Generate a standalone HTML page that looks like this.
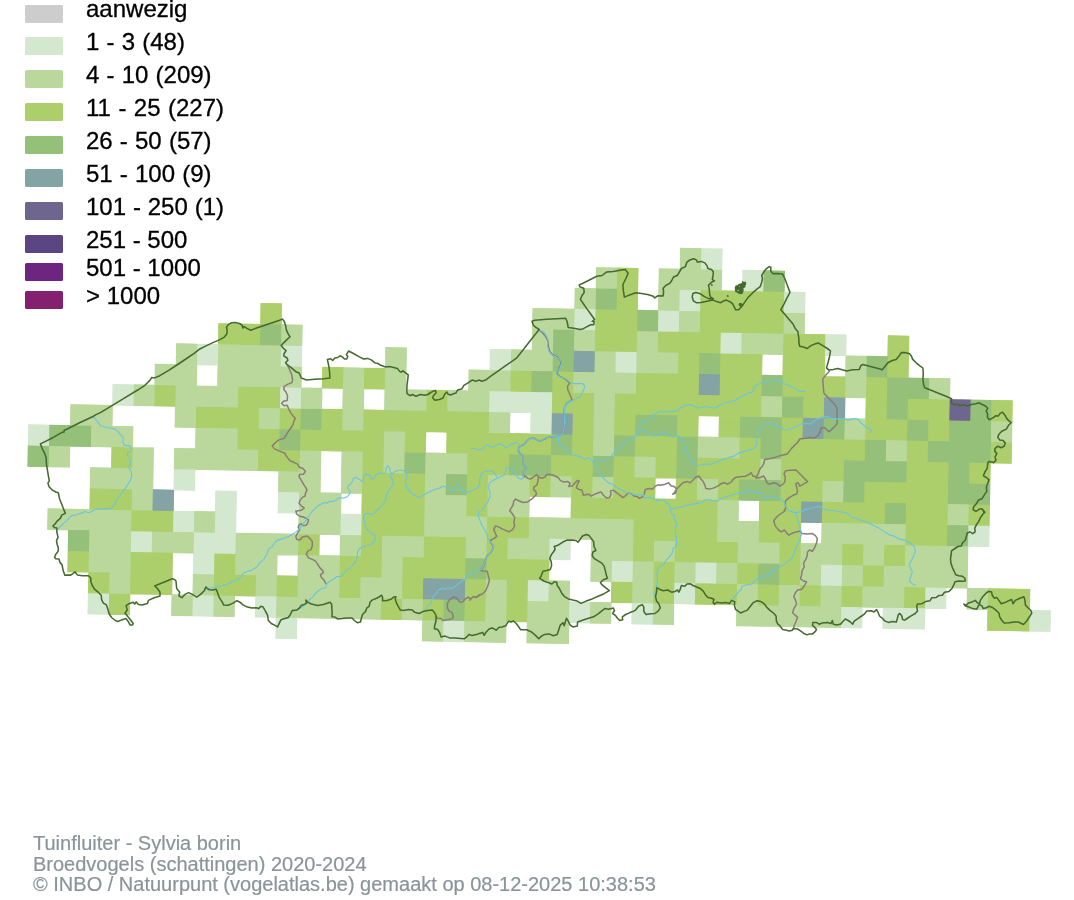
<!DOCTYPE html>
<html lang="nl"><head><meta charset="utf-8"><title>Tuinfluiter - Sylvia borin</title>
<style>
html,body{margin:0;padding:0;background:#fff}
body{width:1074px;height:900px;position:relative;overflow:hidden;font-family:"Liberation Sans",Arial,sans-serif}
svg{position:absolute;left:0;top:0}
.sw{position:absolute;left:25px;width:38px;height:18px;border-radius:1.5px}
.lt{position:absolute;left:86px;font-size:24px;line-height:28px;color:#000;white-space:nowrap;-webkit-text-stroke:0.3px #000}
.ft{position:absolute;left:33px;top:833px;font-size:20px;line-height:20.5px;color:#8a9599;-webkit-text-stroke:0.2px #8a9599;white-space:nowrap}
</style></head><body>
<svg width="1074" height="900" viewBox="0 0 1074 900"><g transform="matrix(20.92 0.38 -0.38 20.92 31.9 236.35)"><path fill="#6f668f" d="M43.985 6.985H45.015V8.015H43.985Z"/><path fill="#84a3a4" d="M25.985 4.985H27.015V6.015H25.985ZM31.985 5.985H33.015V7.015H31.985ZM37.985 6.985H39.015V8.015H37.985ZM24.985 7.985H26.015V9.015H24.985ZM36.985 7.985H38.015V9.015H36.985ZM5.985 11.985H7.015V13.015H5.985ZM36.985 11.985H38.015V13.015H36.985ZM18.985 15.985H21.015V17.015H18.985Z"/><path fill="#94c079" d="M34.985 0.985H36.015V2.015H34.985ZM26.985 1.985H28.015V3.015H26.985ZM28.985 2.985H30.015V4.015H28.985ZM10.985 3.985H12.015V5.015H10.985ZM24.985 3.985H26.015V5.015H24.985ZM24.985 4.985H26.015V6.015H24.985ZM31.985 4.985H33.015V6.015H31.985ZM39.985 4.985H41.015V6.015H39.985ZM23.985 5.985H25.015V7.015H23.985ZM34.985 5.985H36.015V7.015H34.985ZM40.985 5.985H43.015V7.015H40.985ZM35.985 6.985H37.015V8.015H35.985ZM40.985 6.985H42.015V8.015H40.985ZM44.985 6.985H46.015V8.015H44.985ZM12.985 7.985H14.015V9.015H12.985ZM28.985 7.985H31.015V9.015H28.985ZM33.985 7.985H36.015V9.015H33.985ZM37.985 7.985H39.015V9.015H37.985ZM41.985 7.985H43.015V9.015H41.985ZM43.985 7.985H46.015V9.015H43.985ZM0.985 8.985H3.015V10.015H0.985ZM11.985 8.985H13.015V10.015H11.985ZM24.985 8.985H26.015V10.015H24.985ZM27.985 8.985H29.015V10.015H27.985ZM30.985 8.985H32.015V10.015H30.985ZM34.985 8.985H36.015V10.015H34.985ZM39.985 8.985H41.015V10.015H39.985ZM42.985 8.985H46.015V10.015H42.985ZM-0.015 9.985H1.015V11.015H-0.015ZM17.985 9.985H19.015V11.015H17.985ZM22.985 9.985H25.015V11.015H22.985ZM26.985 9.985H28.015V11.015H26.985ZM30.985 9.985H32.015V11.015H30.985ZM38.985 9.985H42.015V11.015H38.985ZM43.985 9.985H45.015V11.015H43.985ZM19.985 10.985H21.015V12.015H19.985ZM33.985 10.985H36.015V12.015H33.985ZM38.985 10.985H40.015V12.015H38.985ZM43.985 10.985H46.015V12.015H43.985ZM40.985 11.985H42.015V13.015H40.985ZM43.985 12.985H45.015V14.015H43.985ZM1.985 13.985H3.015V15.015H1.985ZM20.985 14.985H22.015V16.015H20.985ZM34.985 14.985H36.015V16.015H34.985ZM19.985 16.985H21.015V18.015H19.985Z"/><path fill="#adcf6b" d="M27.985 0.985H29.015V2.015H27.985ZM27.985 1.985H29.015V3.015H27.985ZM31.985 1.985H36.015V3.015H31.985ZM10.985 2.985H12.015V4.015H10.985ZM26.985 2.985H29.015V4.015H26.985ZM31.985 2.985H36.015V4.015H31.985ZM8.985 3.985H11.015V5.015H8.985ZM26.985 3.985H29.015V5.015H26.985ZM29.985 3.985H33.015V5.015H29.985ZM35.985 3.985H38.015V5.015H35.985ZM40.985 3.985H42.015V5.015H40.985ZM30.985 4.985H32.015V6.015H30.985ZM32.985 4.985H35.015V6.015H32.985ZM35.985 4.985H38.015V6.015H35.985ZM40.985 4.985H42.015V6.015H40.985ZM13.985 5.985H15.015V7.015H13.985ZM15.985 5.985H17.015V7.015H15.985ZM22.985 5.985H24.015V7.015H22.985ZM24.985 5.985H26.015V7.015H24.985ZM28.985 5.985H32.015V7.015H28.985ZM32.985 5.985H35.015V7.015H32.985ZM35.985 5.985H39.015V7.015H35.985ZM39.985 5.985H41.015V7.015H39.985ZM5.985 6.985H7.015V8.015H5.985ZM9.985 6.985H12.015V8.015H9.985ZM18.985 6.985H20.015V8.015H18.985ZM24.985 6.985H27.015V8.015H24.985ZM27.985 6.985H35.015V8.015H27.985ZM36.985 6.985H38.015V8.015H36.985ZM39.985 6.985H41.015V8.015H39.985ZM41.985 6.985H44.015V8.015H41.985ZM45.985 6.985H47.015V8.015H45.985ZM7.985 7.985H11.015V9.015H7.985ZM11.985 7.985H13.015V9.015H11.985ZM13.985 7.985H15.015V9.015H13.985ZM15.985 7.985H22.015V9.015H15.985ZM25.985 7.985H27.015V9.015H25.985ZM27.985 7.985H29.015V9.015H27.985ZM30.985 7.985H32.015V9.015H30.985ZM32.985 7.985H34.015V9.015H32.985ZM35.985 7.985H37.015V9.015H35.985ZM39.985 7.985H42.015V9.015H39.985ZM42.985 7.985H44.015V9.015H42.985ZM9.985 8.985H12.015V10.015H9.985ZM12.985 8.985H17.015V10.015H12.985ZM17.985 8.985H19.015V10.015H17.985ZM19.985 8.985H25.015V10.015H19.985ZM25.985 8.985H27.015V10.015H25.985ZM28.985 8.985H31.015V10.015H28.985ZM33.985 8.985H35.015V10.015H33.985ZM35.985 8.985H40.015V10.015H35.985ZM41.985 8.985H43.015V10.015H41.985ZM45.985 8.985H47.015V10.015H45.985ZM3.985 9.985H5.015V11.015H3.985ZM10.985 9.985H13.015V11.015H10.985ZM15.985 9.985H17.015V11.015H15.985ZM20.985 9.985H23.015V11.015H20.985ZM24.985 9.985H27.015V11.015H24.985ZM27.985 9.985H29.015V11.015H27.985ZM29.985 9.985H31.015V11.015H29.985ZM31.985 9.985H35.015V11.015H31.985ZM35.985 9.985H39.015V11.015H35.985ZM41.985 9.985H44.015V11.015H41.985ZM44.985 9.985H46.015V11.015H44.985ZM15.985 10.985H19.015V12.015H15.985ZM20.985 10.985H22.015V12.015H20.985ZM23.985 10.985H25.015V12.015H23.985ZM25.985 10.985H27.015V12.015H25.985ZM27.985 10.985H30.015V12.015H27.985ZM30.985 10.985H32.015V12.015H30.985ZM32.985 10.985H34.015V12.015H32.985ZM35.985 10.985H38.015V12.015H35.985ZM39.985 10.985H44.015V12.015H39.985ZM2.985 11.985H5.015V13.015H2.985ZM15.985 11.985H19.015V13.015H15.985ZM20.985 11.985H22.015V13.015H20.985ZM25.985 11.985H33.015V13.015H25.985ZM34.985 11.985H37.015V13.015H34.985ZM37.985 11.985H41.015V13.015H37.985ZM41.985 11.985H44.015V13.015H41.985ZM44.985 11.985H46.015V13.015H44.985ZM4.985 12.985H7.015V14.015H4.985ZM15.985 12.985H19.015V14.015H15.985ZM21.985 12.985H24.015V14.015H21.985ZM28.985 12.985H33.015V14.015H28.985ZM34.985 12.985H37.015V14.015H34.985ZM41.985 12.985H44.015V14.015H41.985ZM12.985 13.985H14.015V15.015H12.985ZM15.985 13.985H17.015V15.015H15.985ZM18.985 13.985H21.015V15.015H18.985ZM21.985 13.985H23.015V15.015H21.985ZM28.985 13.985H30.015V15.015H28.985ZM30.985 13.985H34.015V15.015H30.985ZM35.985 13.985H37.015V15.015H35.985ZM38.985 13.985H40.015V15.015H38.985ZM40.985 13.985H42.015V15.015H40.985ZM1.985 14.985H3.015V16.015H1.985ZM4.985 14.985H7.015V16.015H4.985ZM8.985 14.985H10.015V16.015H8.985ZM14.985 14.985H17.015V16.015H14.985ZM17.985 14.985H21.015V16.015H17.985ZM21.985 14.985H25.015V16.015H21.985ZM29.985 14.985H31.015V16.015H29.985ZM33.985 14.985H35.015V16.015H33.985ZM35.985 14.985H37.015V16.015H35.985ZM39.985 14.985H41.015V16.015H39.985ZM2.985 15.985H4.015V17.015H2.985ZM4.985 15.985H7.015V17.015H4.985ZM8.985 15.985H11.015V17.015H8.985ZM11.985 15.985H13.015V17.015H11.985ZM14.985 15.985H16.015V17.015H14.985ZM17.985 15.985H19.015V17.015H17.985ZM20.985 15.985H22.015V17.015H20.985ZM22.985 15.985H24.015V17.015H22.985ZM27.985 15.985H29.015V17.015H27.985ZM29.985 15.985H31.015V17.015H29.985ZM31.985 15.985H34.015V17.015H31.985ZM34.985 15.985H36.015V17.015H34.985ZM36.985 15.985H38.015V17.015H36.985ZM38.985 15.985H40.015V17.015H38.985ZM41.985 15.985H43.015V17.015H41.985ZM45.985 15.985H48.015V17.015H45.985ZM3.985 16.985H5.015V18.015H3.985ZM16.985 16.985H18.015V18.015H16.985ZM18.985 16.985H20.015V18.015H18.985ZM20.985 16.985H22.015V18.015H20.985ZM22.985 16.985H24.015V18.015H22.985ZM45.985 16.985H48.015V18.015H45.985Z"/><path fill="#bad89c" d="M30.985 -0.015H32.015V1.015H30.985ZM26.985 0.985H28.015V2.015H26.985ZM29.985 0.985H33.015V2.015H29.985ZM25.985 1.985H27.015V3.015H25.985ZM29.985 1.985H31.015V3.015H29.985ZM23.985 2.985H26.015V4.015H23.985ZM30.985 2.985H32.015V4.015H30.985ZM35.985 2.985H37.015V4.015H35.985ZM11.985 3.985H13.015V5.015H11.985ZM23.985 3.985H25.015V5.015H23.985ZM25.985 3.985H27.015V5.015H25.985ZM28.985 3.985H30.015V5.015H28.985ZM33.985 3.985H36.015V5.015H33.985ZM6.985 4.985H8.015V6.015H6.985ZM8.985 4.985H12.015V6.015H8.985ZM16.985 4.985H18.015V6.015H16.985ZM22.985 4.985H25.015V6.015H22.985ZM26.985 4.985H28.015V6.015H26.985ZM28.985 4.985H31.015V6.015H28.985ZM38.985 4.985H40.015V6.015H38.985ZM5.985 5.985H8.015V7.015H5.985ZM8.985 5.985H13.015V7.015H8.985ZM14.985 5.985H16.015V7.015H14.985ZM16.985 5.985H18.015V7.015H16.985ZM20.985 5.985H23.015V7.015H20.985ZM25.985 5.985H29.015V7.015H25.985ZM38.985 5.985H40.015V7.015H38.985ZM42.985 5.985H44.015V7.015H42.985ZM4.985 6.985H6.015V8.015H4.985ZM6.985 6.985H10.015V8.015H6.985ZM12.985 6.985H14.015V8.015H12.985ZM14.985 6.985H16.015V8.015H14.985ZM16.985 6.985H19.015V8.015H16.985ZM19.985 6.985H22.015V8.015H19.985ZM26.985 6.985H28.015V8.015H26.985ZM34.985 6.985H36.015V8.015H34.985ZM1.985 7.985H4.015V9.015H1.985ZM6.985 7.985H8.015V9.015H6.985ZM10.985 7.985H12.015V9.015H10.985ZM14.985 7.985H16.015V9.015H14.985ZM21.985 7.985H23.015V9.015H21.985ZM26.985 7.985H28.015V9.015H26.985ZM38.985 7.985H40.015V9.015H38.985ZM45.985 7.985H47.015V9.015H45.985ZM2.985 8.985H5.015V10.015H2.985ZM7.985 8.985H10.015V10.015H7.985ZM16.985 8.985H18.015V10.015H16.985ZM26.985 8.985H28.015V10.015H26.985ZM31.985 8.985H34.015V10.015H31.985ZM40.985 8.985H42.015V10.015H40.985ZM0.985 9.985H2.015V11.015H0.985ZM4.985 9.985H6.015V11.015H4.985ZM6.985 9.985H11.015V11.015H6.985ZM12.985 9.985H14.015V11.015H12.985ZM14.985 9.985H16.015V11.015H14.985ZM16.985 9.985H18.015V11.015H16.985ZM18.985 9.985H21.015V11.015H18.985ZM28.985 9.985H30.015V11.015H28.985ZM34.985 9.985H36.015V11.015H34.985ZM2.985 10.985H6.015V12.015H2.985ZM11.985 10.985H14.015V12.015H11.985ZM14.985 10.985H16.015V12.015H14.985ZM18.985 10.985H20.015V12.015H18.985ZM21.985 10.985H24.015V12.015H21.985ZM24.985 10.985H26.015V12.015H24.985ZM26.985 10.985H28.015V12.015H26.985ZM31.985 10.985H33.015V12.015H31.985ZM37.985 10.985H39.015V12.015H37.985ZM4.985 11.985H6.015V13.015H4.985ZM12.985 11.985H15.015V13.015H12.985ZM18.985 11.985H21.015V13.015H18.985ZM21.985 11.985H24.015V13.015H21.985ZM32.985 11.985H34.015V13.015H32.985ZM43.985 11.985H45.015V13.015H43.985ZM0.985 12.985H5.015V14.015H0.985ZM7.985 12.985H9.015V14.015H7.985ZM12.985 12.985H15.015V14.015H12.985ZM18.985 12.985H22.015V14.015H18.985ZM23.985 12.985H29.015V14.015H23.985ZM32.985 12.985H35.015V14.015H32.985ZM37.985 12.985H42.015V14.015H37.985ZM2.985 13.985H5.015V15.015H2.985ZM5.985 13.985H8.015V15.015H5.985ZM9.985 13.985H13.015V15.015H9.985ZM14.985 13.985H16.015V15.015H14.985ZM16.985 13.985H19.015V15.015H16.985ZM20.985 13.985H22.015V15.015H20.985ZM22.985 13.985H25.015V15.015H22.985ZM26.985 13.985H29.015V15.015H26.985ZM29.985 13.985H31.015V15.015H29.985ZM33.985 13.985H36.015V15.015H33.985ZM36.985 13.985H39.015V15.015H36.985ZM39.985 13.985H41.015V15.015H39.985ZM41.985 13.985H45.015V15.015H41.985ZM2.985 14.985H5.015V16.015H2.985ZM9.985 14.985H12.015V16.015H9.985ZM12.985 14.985H15.015V16.015H12.985ZM16.985 14.985H18.015V16.015H16.985ZM26.985 14.985H28.015V16.015H26.985ZM28.985 14.985H30.015V16.015H28.985ZM30.985 14.985H32.015V16.015H30.985ZM32.985 14.985H34.015V16.015H32.985ZM36.985 14.985H38.015V16.015H36.985ZM38.985 14.985H40.015V16.015H38.985ZM40.985 14.985H45.015V16.015H40.985ZM3.985 15.985H5.015V17.015H3.985ZM7.985 15.985H9.015V17.015H7.985ZM10.985 15.985H12.015V17.015H10.985ZM12.985 15.985H15.015V17.015H12.985ZM15.985 15.985H18.015V17.015H15.985ZM21.985 15.985H23.015V17.015H21.985ZM24.985 15.985H26.015V17.015H24.985ZM28.985 15.985H30.015V17.015H28.985ZM33.985 15.985H35.015V17.015H33.985ZM35.985 15.985H37.015V17.015H35.985ZM37.985 15.985H39.015V17.015H37.985ZM39.985 15.985H42.015V17.015H39.985ZM44.985 15.985H46.015V17.015H44.985ZM6.985 16.985H8.015V18.015H6.985ZM8.985 16.985H10.015V18.015H8.985ZM11.985 16.985H17.015V18.015H11.985ZM17.985 16.985H19.015V18.015H17.985ZM21.985 16.985H23.015V18.015H21.985ZM23.985 16.985H26.015V18.015H23.985ZM26.985 16.985H28.015V18.015H26.985ZM29.985 16.985H31.015V18.015H29.985ZM33.985 16.985H39.015V18.015H33.985ZM18.985 17.985H20.015V19.015H18.985ZM20.985 17.985H23.015V19.015H20.985ZM23.985 17.985H26.015V19.015H23.985Z"/><path fill="#d4e8cf" d="M31.985 -0.015H33.015V1.015H31.985ZM33.985 0.985H35.015V2.015H33.985ZM30.985 1.985H32.015V3.015H30.985ZM35.985 1.985H37.015V3.015H35.985ZM25.985 2.985H27.015V4.015H25.985ZM29.985 2.985H31.015V4.015H29.985ZM32.985 3.985H34.015V5.015H32.985ZM37.985 3.985H39.015V5.015H37.985ZM7.985 4.985H9.015V6.015H7.985ZM11.985 4.985H13.015V6.015H11.985ZM21.985 4.985H23.015V6.015H21.985ZM27.985 4.985H29.015V6.015H27.985ZM3.985 6.985H5.015V8.015H3.985ZM11.985 6.985H13.015V8.015H11.985ZM21.985 6.985H25.015V8.015H21.985ZM23.985 7.985H25.015V9.015H23.985ZM-0.015 8.985H1.015V10.015H-0.015ZM6.985 10.985H8.015V12.015H6.985ZM8.985 11.985H10.015V13.015H8.985ZM11.985 11.985H13.015V13.015H11.985ZM6.985 12.985H8.015V14.015H6.985ZM8.985 12.985H10.015V14.015H8.985ZM14.985 12.985H16.015V14.015H14.985ZM44.985 12.985H46.015V14.015H44.985ZM4.985 13.985H6.015V15.015H4.985ZM7.985 13.985H10.015V15.015H7.985ZM24.985 13.985H26.015V15.015H24.985ZM7.985 14.985H9.015V16.015H7.985ZM27.985 14.985H29.015V16.015H27.985ZM31.985 14.985H33.015V16.015H31.985ZM37.985 14.985H39.015V16.015H37.985ZM23.985 15.985H25.015V17.015H23.985ZM30.985 15.985H32.015V17.015H30.985ZM42.985 15.985H44.015V17.015H42.985ZM2.985 16.985H4.015V18.015H2.985ZM7.985 16.985H9.015V18.015H7.985ZM10.985 16.985H12.015V18.015H10.985ZM25.985 16.985H27.015V18.015H25.985ZM28.985 16.985H30.015V18.015H28.985ZM38.985 16.985H40.015V18.015H38.985ZM40.985 16.985H43.015V18.015H40.985ZM47.985 16.985H49.015V18.015H47.985ZM11.985 17.985H13.015V19.015H11.985ZM19.985 17.985H21.015V19.015H19.985Z"/></g><g transform="matrix(20.92 0.38 -0.38 20.92 31.9 236.35)"><path fill="#d4e8cf" d="M32 0H33V1H32ZM34 1H35V2H34ZM31 2H32V3H31ZM36 2H37V3H36ZM26 3H27V4H26ZM30 3H31V4H30ZM33 4H34V5H33ZM38 4H39V5H38ZM8 5H9V6H8ZM12 5H13V6H12ZM22 5H23V6H22ZM28 5H29V6H28ZM4 7H5V8H4ZM12 7H13V8H12ZM22 7H25V8H22ZM24 8H25V9H24ZM0 9H1V10H0ZM7 11H8V12H7ZM9 12H10V13H9ZM12 12H13V13H12ZM7 13H8V14H7ZM9 13H10V14H9ZM15 13H16V14H15ZM45 13H46V14H45ZM5 14H6V15H5ZM8 14H10V15H8ZM25 14H26V15H25ZM8 15H9V16H8ZM28 15H29V16H28ZM32 15H33V16H32ZM38 15H39V16H38ZM24 16H25V17H24ZM31 16H32V17H31ZM43 16H44V17H43ZM3 17H4V18H3ZM8 17H9V18H8ZM11 17H12V18H11ZM26 17H27V18H26ZM29 17H30V18H29ZM39 17H40V18H39ZM41 17H43V18H41ZM48 17H49V18H48ZM12 18H13V19H12ZM20 18H21V19H20Z"/><path fill="#bad89c" d="M31 0H32V1H31ZM27 1H28V2H27ZM30 1H33V2H30ZM26 2H27V3H26ZM30 2H31V3H30ZM24 3H26V4H24ZM31 3H32V4H31ZM36 3H37V4H36ZM12 4H13V5H12ZM24 4H25V5H24ZM26 4H27V5H26ZM29 4H30V5H29ZM34 4H36V5H34ZM7 5H8V6H7ZM9 5H12V6H9ZM17 5H18V6H17ZM23 5H25V6H23ZM27 5H28V6H27ZM29 5H31V6H29ZM39 5H40V6H39ZM6 6H8V7H6ZM9 6H13V7H9ZM15 6H16V7H15ZM17 6H18V7H17ZM21 6H23V7H21ZM26 6H29V7H26ZM39 6H40V7H39ZM43 6H44V7H43ZM5 7H6V8H5ZM7 7H10V8H7ZM13 7H14V8H13ZM15 7H16V8H15ZM17 7H19V8H17ZM20 7H22V8H20ZM27 7H28V8H27ZM35 7H36V8H35ZM2 8H4V9H2ZM7 8H8V9H7ZM11 8H12V9H11ZM15 8H16V9H15ZM22 8H23V9H22ZM27 8H28V9H27ZM39 8H40V9H39ZM46 8H47V9H46ZM3 9H5V10H3ZM8 9H10V10H8ZM17 9H18V10H17ZM27 9H28V10H27ZM32 9H34V10H32ZM41 9H42V10H41ZM1 10H2V11H1ZM5 10H6V11H5ZM7 10H11V11H7ZM13 10H14V11H13ZM15 10H16V11H15ZM17 10H18V11H17ZM19 10H21V11H19ZM29 10H30V11H29ZM35 10H36V11H35ZM3 11H6V12H3ZM12 11H14V12H12ZM15 11H16V12H15ZM19 11H20V12H19ZM22 11H24V12H22ZM25 11H26V12H25ZM27 11H28V12H27ZM32 11H33V12H32ZM38 11H39V12H38ZM5 12H6V13H5ZM13 12H15V13H13ZM19 12H21V13H19ZM22 12H24V13H22ZM33 12H34V13H33ZM44 12H45V13H44ZM1 13H5V14H1ZM8 13H9V14H8ZM13 13H15V14H13ZM19 13H22V14H19ZM24 13H29V14H24ZM33 13H35V14H33ZM38 13H42V14H38ZM3 14H5V15H3ZM6 14H8V15H6ZM10 14H13V15H10ZM15 14H16V15H15ZM17 14H19V15H17ZM21 14H22V15H21ZM23 14H25V15H23ZM27 14H29V15H27ZM30 14H31V15H30ZM34 14H36V15H34ZM37 14H39V15H37ZM40 14H41V15H40ZM42 14H45V15H42ZM3 15H5V16H3ZM10 15H12V16H10ZM13 15H15V16H13ZM17 15H18V16H17ZM27 15H28V16H27ZM29 15H30V16H29ZM31 15H32V16H31ZM33 15H34V16H33ZM37 15H38V16H37ZM39 15H40V16H39ZM41 15H45V16H41ZM4 16H5V17H4ZM8 16H9V17H8ZM11 16H12V17H11ZM13 16H15V17H13ZM16 16H18V17H16ZM22 16H23V17H22ZM25 16H26V17H25ZM29 16H30V17H29ZM34 16H35V17H34ZM36 16H37V17H36ZM38 16H39V17H38ZM40 16H42V17H40ZM45 16H46V17H45ZM7 17H8V18H7ZM9 17H10V18H9ZM12 17H17V18H12ZM18 17H19V18H18ZM22 17H23V18H22ZM24 17H26V18H24ZM27 17H28V18H27ZM30 17H31V18H30ZM34 17H39V18H34ZM19 18H20V19H19ZM21 18H23V19H21ZM24 18H26V19H24Z"/><path fill="#adcf6b" d="M28 1H29V2H28ZM28 2H29V3H28ZM32 2H36V3H32ZM11 3H12V4H11ZM27 3H29V4H27ZM32 3H36V4H32ZM9 4H11V5H9ZM27 4H29V5H27ZM30 4H33V5H30ZM36 4H38V5H36ZM41 4H42V5H41ZM31 5H32V6H31ZM33 5H35V6H33ZM36 5H38V6H36ZM41 5H42V6H41ZM14 6H15V7H14ZM16 6H17V7H16ZM23 6H24V7H23ZM25 6H26V7H25ZM29 6H32V7H29ZM33 6H35V7H33ZM36 6H39V7H36ZM40 6H41V7H40ZM6 7H7V8H6ZM10 7H12V8H10ZM19 7H20V8H19ZM25 7H27V8H25ZM28 7H35V8H28ZM37 7H38V8H37ZM40 7H41V8H40ZM42 7H44V8H42ZM46 7H47V8H46ZM8 8H11V9H8ZM12 8H13V9H12ZM14 8H15V9H14ZM16 8H22V9H16ZM26 8H27V9H26ZM28 8H29V9H28ZM31 8H32V9H31ZM33 8H34V9H33ZM36 8H37V9H36ZM40 8H42V9H40ZM43 8H44V9H43ZM10 9H12V10H10ZM13 9H17V10H13ZM18 9H19V10H18ZM20 9H25V10H20ZM26 9H27V10H26ZM29 9H31V10H29ZM34 9H35V10H34ZM36 9H40V10H36ZM42 9H43V10H42ZM46 9H47V10H46ZM4 10H5V11H4ZM11 10H13V11H11ZM16 10H17V11H16ZM21 10H23V11H21ZM25 10H27V11H25ZM28 10H29V11H28ZM30 10H31V11H30ZM32 10H35V11H32ZM36 10H39V11H36ZM42 10H44V11H42ZM45 10H46V11H45ZM16 11H19V12H16ZM21 11H22V12H21ZM24 11H25V12H24ZM26 11H27V12H26ZM28 11H30V12H28ZM31 11H32V12H31ZM33 11H34V12H33ZM36 11H38V12H36ZM40 11H44V12H40ZM3 12H5V13H3ZM16 12H19V13H16ZM21 12H22V13H21ZM26 12H33V13H26ZM35 12H37V13H35ZM38 12H41V13H38ZM42 12H44V13H42ZM45 12H46V13H45ZM5 13H7V14H5ZM16 13H19V14H16ZM22 13H24V14H22ZM29 13H33V14H29ZM35 13H37V14H35ZM42 13H44V14H42ZM13 14H14V15H13ZM16 14H17V15H16ZM19 14H21V15H19ZM22 14H23V15H22ZM29 14H30V15H29ZM31 14H34V15H31ZM36 14H37V15H36ZM39 14H40V15H39ZM41 14H42V15H41ZM2 15H3V16H2ZM5 15H7V16H5ZM9 15H10V16H9ZM15 15H17V16H15ZM18 15H21V16H18ZM22 15H25V16H22ZM30 15H31V16H30ZM34 15H35V16H34ZM36 15H37V16H36ZM40 15H41V16H40ZM3 16H4V17H3ZM5 16H7V17H5ZM9 16H11V17H9ZM12 16H13V17H12ZM15 16H16V17H15ZM18 16H19V17H18ZM21 16H22V17H21ZM23 16H24V17H23ZM28 16H29V17H28ZM30 16H31V17H30ZM32 16H34V17H32ZM35 16H36V17H35ZM37 16H38V17H37ZM39 16H40V17H39ZM42 16H43V17H42ZM46 16H48V17H46ZM4 17H5V18H4ZM17 17H18V18H17ZM19 17H20V18H19ZM21 17H22V18H21ZM23 17H24V18H23ZM46 17H48V18H46Z"/><path fill="#94c079" d="M35 1H36V2H35ZM27 2H28V3H27ZM29 3H30V4H29ZM11 4H12V5H11ZM25 4H26V5H25ZM25 5H26V6H25ZM32 5H33V6H32ZM40 5H41V6H40ZM24 6H25V7H24ZM35 6H36V7H35ZM41 6H43V7H41ZM36 7H37V8H36ZM41 7H42V8H41ZM45 7H46V8H45ZM13 8H14V9H13ZM29 8H31V9H29ZM34 8H36V9H34ZM38 8H39V9H38ZM42 8H43V9H42ZM44 8H46V9H44ZM1 9H3V10H1ZM12 9H13V10H12ZM25 9H26V10H25ZM28 9H29V10H28ZM31 9H32V10H31ZM35 9H36V10H35ZM40 9H41V10H40ZM43 9H46V10H43ZM0 10H1V11H0ZM18 10H19V11H18ZM23 10H25V11H23ZM27 10H28V11H27ZM31 10H32V11H31ZM39 10H42V11H39ZM44 10H45V11H44ZM20 11H21V12H20ZM34 11H36V12H34ZM39 11H40V12H39ZM44 11H46V12H44ZM41 12H42V13H41ZM44 13H45V14H44ZM2 14H3V15H2ZM21 15H22V16H21ZM35 15H36V16H35ZM20 17H21V18H20Z"/><path fill="#84a3a4" d="M26 5H27V6H26ZM32 6H33V7H32ZM38 7H39V8H38ZM25 8H26V9H25ZM37 8H38V9H37ZM6 12H7V13H6ZM37 12H38V13H37ZM19 16H21V17H19Z"/><path fill="#6f668f" d="M44 7H45V8H44Z"/></g><path fill="none" fill-rule="evenodd" stroke="#8a7c76" stroke-width="1.5" stroke-linejoin="round" stroke-linecap="round" d="M295.9 511.0L296.6 514.0L299.6 516.2L303.3 517.0L306.3 518.4L308.5 519.9L307.8 522.9L306.3 525.2L303.3 525.6L301.1 523.7L298.9 525.2L298.1 527.4L299.6 529.6L297.4 533.3L295.9 536.3L296.6 539.3L299.6 540.1L302.6 537.1L307.1 536.0L310.0 538.6L312.3 541.5L312.3 546.0L310.8 549.7L307.8 551.2L306.3 554.2L308.5 557.9L312.3 559.4L315.3 560.9L317.5 563.9L319.7 567.6L322.7 570.6L323.4 572.8L320.5 574.3L321.2 577.3L324.2 580.3L325.7 583.3L326.4 584.0M436.2 616.8L437.7 618.3L441.4 618.6L442.9 620.5L448.1 619.8L452.6 618.6L453.3 616.0L451.8 612.3L448.9 610.8L447.4 607.8L447.4 603.4L449.6 599.6L453.3 597.1L456.3 597.7L458.5 600.4L460.0 602.2L463.0 601.6L465.3 598.9L468.2 597.1L470.5 598.9L473.4 596.7L476.4 597.4L480.0 595.2M510.2 511.0L512.5 514.0L514.7 517.7L513.9 522.2L514.7 525.9L512.5 529.6L509.0 531.9L505.8 530.4L502.0 528.9L499.1 527.1L495.6 525.9L493.8 529.6L495.3 533.3L496.8 536.3L493.8 538.6L490.1 540.5L490.9 543.0L493.5 546.0L492.3 550.0L490.1 553.5L487.1 555.7L485.6 559.4L484.9 563.1L482.7 567.6L479.7 570.3L482.7 570.9L487.1 571.3L488.2 575.1L489.4 580.3L487.9 585.5L485.6 590.7L482.7 593.7L478.9 595.2L476.0 597.4L473.0 596.7L470.0 600.1M784.9 511.0L780.4 514.0L776.7 517.0L773.7 520.7L775.2 525.9L778.2 529.6L781.2 531.9L784.2 530.1L786.4 532.6L788.6 535.1L792.3 533.3L796.1 531.9L800.5 531.1L802.0 533.6L807.2 534.1L812.5 533.6L815.4 535.6L817.4 538.6L816.5 543.0L814.7 547.5L812.5 551.2L809.5 550.0L807.5 552.0L807.2 555.7L805.8 559.4L803.5 563.1L804.3 566.9L802.0 570.6L801.6 575.1L800.5 578.8L803.5 581.0L806.5 581.8L805.0 584.7L802.0 589.2L797.6 590.0L795.3 592.9L793.8 596.7L795.6 600.4L796.5 604.1L793.8 608.6L792.6 613.0L795.3 615.3L797.6 617.1L796.1 621.2L794.1 625.7L793.5 628.7M287.6 365.4L289.4 369.2L291.6 374.4L292.6 379.6L292.0 382.6L287.9 384.1L284.2 386.3L283.7 389.3L286.1 392.3L287.6 396.0L287.1 400.4L283.4 401.2L281.6 403.4L284.2 405.7L287.1 405.2L288.6 408.6L290.9 413.1L293.1 416.1L295.3 418.3L293.8 421.3L293.1 424.3L290.9 428.0L288.6 431.0L286.4 434.7L284.2 438.4L278.9 439.9L275.2 442.9L272.2 445.9L274.5 448.9L279.7 451.1L284.9 453.3M539.2 329.9L542.9 333.2L545.9 336.9L547.8 340.7L548.4 346.6L549.6 351.1L552.6 354.8L557.1 356.7L560.8 360.8L560.8 364.5L558.5 369.0L556.8 373.4L559.3 376.1L563.0 377.9L566.7 380.1L569.7 383.1L567.5 386.1L567.8 389.8L569.7 394.3L572.0 399.5M822.8 378.9L826.5 374.3L829.5 371.3M284.9 453.3L285.7 455.1L287.9 458.1L290.1 460.8L293.9 462.3L297.6 464.1L299.1 467.0L302.8 468.5L305.5 471.2L303.5 474.2L299.5 474.5L299.1 476.7L301.3 480.4L303.5 484.2L305.5 487.2L307.0 490.1L305.5 493.1L305.0 496.1L302.0 497.6L299.8 500.6L299.1 503.5L301.3 505.8L304.3 508.0L301.3 510.2L296.8 511.0M572.0 399.6L570.0 401.2L566.3 403.7L564.4 408.2L564.1 414.2L564.1 420.9L564.4 426.8L563.3 431.3L561.1 434.3L558.1 436.1L553.6 436.9L549.2 436.9L544.7 439.0L540.2 441.0L537.2 440.2L533.5 438.0L529.8 438.4L526.8 441.0L523.8 444.7L520.1 446.5L519.1 446.5L518.2 449.9L519.4 452.9L522.3 455.1L523.5 458.8L523.1 463.3L524.6 466.3L526.5 468.5L523.8 470.8L522.6 473.7L523.8 477.5L524.6 475.7L527.6 478.2L530.5 479.0L533.5 477.2L536.5 474.5L538.4 476.7L538.0 481.2L536.9 484.9L534.0 487.2L533.5 489.4L535.8 491.6L536.5 494.2L533.5 497.6L530.5 499.8L527.6 502.0L523.1 502.5L519.4 501.0L515.6 499.1L513.7 501.3L513.1 505.0L510.7 508.8L509.7 511.0M538.4 476.7L541.0 478.2L544.7 477.2L546.9 474.5L550.7 474.5L555.1 476.0L558.1 477.5L560.3 480.4L563.3 481.9L567.8 481.6L570.0 483.4L568.8 486.4L572.3 486.1L575.2 482.7L577.5 480.4L579.3 481.2L577.5 484.2L576.3 487.9L579.0 489.4L581.9 490.1L583.4 495.3L586.4 494.6L589.4 494.2L590.9 496.1L593.9 494.6L598.3 492.7L601.3 492.1L603.5 495.3L606.5 498.0L609.5 497.6L611.0 494.6L610.5 490.9L613.2 490.1L616.2 492.4L619.2 494.6L622.9 497.6L625.9 495.3L628.1 493.1L631.8 493.9L634.1 496.1L637.1 496.5L639.3 498.3L643.0 496.8L644.5 493.1L645.3 489.4L649.0 488.6L652.7 489.1L654.9 486.4L657.9 484.9L660.0 484.9M660.0 485.2L664.2 484.6L668.6 482.7L670.9 485.7L674.6 486.7L676.5 489.1L674.6 492.4L672.6 494.2L675.6 493.1L676.5 489.1L679.1 486.4L682.8 482.7L687.2 481.6L690.2 482.7L693.2 479.7L696.2 476.7L699.2 476.3L700.9 479.0L702.9 481.2L704.8 484.9L705.9 488.6L709.6 489.1L714.1 487.9L718.5 485.7L721.5 483.4L724.5 482.7L727.5 484.2L731.2 482.2L733.4 479.0L736.4 477.2L740.9 476.7L745.3 476.3L749.1 474.5L751.3 472.7L752.8 476.0L755.8 476.7L756.1 478.2M756.1 478.2L758.0 473.7L760.2 468.5L762.5 466.3L764.0 462.6L764.7 459.6L769.2 458.8L775.1 457.4L781.1 455.4L787.1 453.9L789.3 451.4L791.5 448.4L794.5 445.4L797.5 442.5L799.7 439.0L803.4 438.4L807.9 438.0L810.0 437.2M756.1 478.2L760.2 477.5L763.5 476.0L765.5 479.0L766.9 482.7L769.2 484.2L773.6 482.7L777.4 483.7L779.6 486.1L782.6 484.6L784.8 481.9L785.3 477.5L784.1 473.7L785.6 470.8L790.0 470.3L796.0 470.0L799.0 473.0L803.4 477.5L807.6 481.6L803.4 484.2L799.7 486.1L798.2 482.7L795.7 483.4L796.7 487.2L797.5 491.6L796.7 493.9L793.0 495.3L789.3 497.6L785.6 500.6L785.3 504.3L785.9 508.0L784.1 511.0M810.0 438.0L814.2 438.0L817.9 435.8L820.1 432.0L820.9 428.3L824.6 427.6L826.8 429.8L829.1 431.6L832.0 429.1L835.0 426.1L837.2 423.8L837.2 419.4L836.9 414.2L837.2 408.9L835.8 406.0L833.5 403.0L830.5 400.0M822.8 378.9L823.2 385.8L823.9 393.3L827.7 397.1L830.5 400.0"/><path fill="none" fill-rule="evenodd" stroke="#6ac5dc" stroke-width="1.1" stroke-linejoin="round" stroke-linecap="round" d="M93.0 416.5L97.5 421.3L100.4 425.8L106.4 427.2L113.9 428.7L117.6 431.0L119.8 433.9L123.1 437.4L122.8 442.1L124.3 445.1L129.5 445.9L131.4 448.1L131.0 451.1L127.3 453.3L127.6 455.5L129.9 458.5L130.5 463.0L128.8 467.5L131.4 471.9L131.7 475.7L130.2 480.9L127.3 485.3L122.8 491.3L117.6 498.8L113.9 505.5L110.9 508.4L103.4 508.9L96.0 509.2L91.5 511.4L90.0 512.5L87.0 512.2L84.8 511.4L82.6 512.9L79.6 513.6L75.9 515.1L72.1 515.4L69.2 518.1L66.2 521.1L63.2 523.6M63.2 524.0L60.2 526.6L58.0 528.9M205.0 590.0L209.0 588.5L214.7 587.3L222.1 585.8L229.6 583.3L232.6 581.0L236.3 580.7L240.0 578.0L243.0 573.6L247.5 571.3L251.2 570.6L257.9 566.1L259.4 563.1L263.9 559.4L266.8 554.2L269.1 548.2L272.0 547.1L274.3 543.0L277.3 540.1L283.2 538.6L289.2 536.3L295.1 532.6L299.6 528.9L302.6 524.4L306.3 519.9L309.3 515.5L312.3 511.0M330.0 581.0L326.4 584.0L325.7 587.7L320.5 589.2L316.7 592.2L313.0 596.7L307.8 601.1L304.1 605.6L301.1 607.8L296.6 610.1L292.2 611.1L289.9 615.3L287.7 618.0L281.0 619.8L277.6 626.5M375.9 511.0L374.4 513.2L371.4 514.7L367.7 513.2L364.7 514.3L363.5 517.7L364.7 522.9L365.9 527.4L368.4 531.1L372.1 533.3L374.8 535.6L375.4 538.6L373.9 542.3L370.7 544.5L366.9 546.0L362.5 546.8L359.0 549.0L357.5 552.7L357.2 557.2L355.8 561.7L352.8 565.4L349.8 568.4L346.1 570.6L343.8 573.6L340.9 576.5L337.1 576.5L334.2 578.8L330.4 581.0M480.0 569.8L474.9 572.1L469.0 574.3L466.7 577.3L463.8 579.8L460.0 582.5L455.6 586.2L451.8 588.5L447.4 587.7L445.1 589.2L442.2 588.2L438.4 590.0L436.2 593.7L433.2 596.7L431.7 600.4L431.0 603.4L428.0 604.9L426.1 608.6L425.5 610.5M478.9 511.0L478.2 515.5L479.7 519.9L481.9 525.2L484.9 530.4L487.1 534.8L487.9 538.6L490.9 542.3L493.5 546.0L492.3 550.0L490.1 553.5L487.1 555.7L485.6 559.4L484.9 563.1L482.7 567.6L479.7 570.3M670.7 511.0L671.8 514.0L674.4 515.5L674.8 519.2L676.6 523.7L675.9 528.1L675.1 532.6L676.3 537.1L676.6 542.3L675.9 546.8L673.3 547.9L672.4 552.7L669.9 556.4L666.2 560.2L663.9 563.9L660.2 566.9L657.5 569.1L656.9 573.6L657.5 579.5L656.5 585.5L655.8 590.0L654.6 594.4L655.8 597.4M780.0 566.9L775.7 569.1L772.0 571.3L769.0 575.1L766.0 576.5L762.3 575.8L757.8 578.0L754.8 581.0L751.8 584.0L746.6 584.7L742.2 586.2L740.7 590.0L737.7 592.9L734.7 596.7L731.7 600.1M802.0 511.0L799.8 511.7L795.3 512.5L796.8 515.5L797.6 519.9L799.1 524.4L800.5 529.6L801.3 534.8L799.8 540.1L797.6 544.5L795.3 549.7L793.8 554.9L790.9 559.4L786.4 563.1L781.9 566.1L776.7 568.4L772.2 570.6L770.0 572.1M790.9 511.0L795.3 512.5M834.8 511.0L840.0 511.7L846.0 512.5L849.0 514.7L851.6 517.3L856.4 518.4L862.4 520.7L867.6 522.2L872.8 525.2L878.8 528.1L884.7 531.9L889.2 534.8L893.6 536.0L898.1 538.6L904.1 540.1L910.0 543.0L914.5 546.8L915.3 551.2L913.8 555.7L911.5 560.2L909.3 564.6L910.8 569.1L912.3 572.1L910.8 576.5L909.3 581.0L912.3 583.7L915.3 585.2M539.2 329.9L543.6 331.7L546.6 336.2L548.1 340.7L547.4 345.9L548.9 351.1L551.8 354.8L556.3 357.0L560.0 359.3L561.8 363.0L560.0 367.5L557.1 371.2L556.3 374.2L559.3 376.4L563.8 377.9L567.5 380.1L570.5 382.7L574.9 383.6L580.0 383.6M580.0 396.5L574.9 399.5L570.5 401.7L566.7 404.7L564.5 409.2L564.2 415.1L564.5 419.6L564.8 423.9M312.5 511.0L316.2 507.3L320.7 504.3L324.4 502.5L327.4 503.1L328.9 501.3L332.6 501.6L336.3 500.1L339.3 497.6L343.8 498.3L347.5 496.5L349.7 493.9L350.2 490.9L347.5 488.6L347.8 486.1L350.5 484.2L352.7 481.2L353.4 478.2L355.7 477.2L357.9 478.7L360.0 479.7M360.0 479.7L362.7 481.9L363.7 477.5L364.9 474.5L367.9 474.2L370.1 476.0L371.6 479.0L373.8 478.2L376.8 474.5L379.8 472.7L382.8 473.3L385.5 473.0L386.1 468.5L387.5 465.5L389.5 467.8L390.5 472.3L392.5 473.7L395.4 471.2L399.9 470.0L403.6 470.8L406.6 473.0L406.9 476.7L405.4 481.2L406.3 486.4L408.8 490.1L412.6 493.9L416.3 496.5L419.3 497.6L423.0 495.3L427.5 492.7L433.4 490.1L439.4 487.9L443.9 486.1L446.8 487.9L449.8 490.6L452.8 491.2L455.0 488.6L456.1 484.9L458.5 484.2L459.9 487.2L461.0 490.6L464.7 492.4L469.2 492.1L473.6 490.1L478.1 487.2L479.6 483.4L479.6 479.0L481.1 474.5L484.1 471.8L488.5 470.8L493.0 471.5L495.3 474.5L497.5 478.2L500.5 476.7L504.2 475.2L505.7 471.5L506.4 467.8L510.0 468.5M392.5 473.7L389.5 476.7L392.5 479.7L393.2 483.4L391.0 487.9L388.0 491.6L386.5 495.3L385.8 499.8L382.8 504.3L379.8 508.0L376.1 511.0M497.5 478.2L493.0 480.4L489.3 483.4L488.5 487.9L490.0 492.4L490.0 496.8L487.8 502.0L484.8 506.5L481.1 511.0M471.4 448.4L475.1 448.4L478.1 449.9L481.1 449.9L484.1 447.4L487.1 444.7L490.0 446.2L493.8 446.9L496.7 444.7L500.5 443.9L503.4 445.4L505.7 447.7L507.9 446.5L510.0 445.4M510.0 468.5L512.7 468.2L514.2 471.5L516.4 475.2L518.6 478.2L521.6 479.3L523.8 477.5L522.6 473.7L523.8 470.8L526.5 468.5L524.6 466.3L523.1 463.3L523.5 458.8L522.3 455.1L519.4 452.9L518.2 449.9L519.1 446.5M510.0 444.4L512.7 443.9L515.6 442.5L519.1 443.9L520.1 446.5L523.8 444.7L526.8 441.0L529.8 438.4L533.5 438.0L537.2 440.2L540.2 441.0L544.7 439.0L549.2 436.9L553.6 436.9L558.1 436.1L561.1 434.3L563.3 431.3L564.4 426.8L564.1 420.9L564.1 414.2L564.4 408.2L566.3 403.7L570.0 401.2L574.5 400.0M558.8 436.5L558.1 440.2L558.8 443.9L562.6 446.2L567.0 449.9L571.5 453.6L574.5 455.4L579.7 456.6L583.4 458.4L585.7 459.3L588.6 457.4L590.9 459.6L592.4 461.4L595.3 458.8L597.6 458.8L599.8 460.8L604.3 460.3L607.3 459.6L611.0 456.6L614.0 452.9L617.7 448.4L622.2 443.9L626.6 441.0L631.1 439.0L634.1 436.5L638.5 435.0L637.8 432.0L637.1 428.3L638.5 425.3L643.0 423.1L647.5 420.9L651.2 417.9L653.4 414.2L657.2 412.7L660.0 411.6M592.4 461.4L594.6 464.4L597.1 467.8L597.6 471.5L599.8 474.5L602.8 477.5L605.8 480.4L608.8 483.1L612.5 484.2L616.2 487.2L620.7 489.4L625.1 491.6L629.6 493.6L634.1 494.6L639.3 495.0L643.8 494.6L644.2 497.6L649.0 497.6L653.4 498.3L656.4 500.6L660.0 500.1M637.8 432.0L640.8 431.3L644.2 429.8L646.7 432.0L649.7 434.6L652.7 436.1L656.4 435.5L660.0 434.6M660.0 411.6L664.9 411.9L670.9 411.6L677.6 410.7L681.3 407.4L685.8 405.2L690.2 404.5L693.9 406.0L698.4 408.2L703.6 406.7L709.6 407.2L715.5 408.2L718.5 406.0L724.5 403.3L731.2 401.5L736.4 400.0M660.0 433.5L663.1 431.6L665.6 433.5L669.4 435.8L673.1 437.2L676.8 435.8L679.8 436.9L682.5 440.2L684.3 443.9L684.0 447.7L685.8 451.4L689.0 455.9L690.2 459.6L693.2 462.6L696.2 465.3L701.4 464.8L706.6 464.1L711.8 464.1L717.0 461.8L723.0 459.6L729.0 457.4L734.9 455.9L738.6 452.9L743.9 451.4L749.8 449.9L754.3 448.0L756.5 445.4L757.0 440.2L757.3 435.0L758.8 430.5L761.0 426.8L764.0 424.1L769.2 423.5L775.1 424.6L779.6 427.1L784.1 429.5L788.5 429.8L793.0 428.0L797.5 426.1L802.0 423.8L806.4 423.5L810.0 424.1M660.0 500.1L663.4 499.8L666.4 502.8L669.4 505.0L670.9 508.8L676.1 508.0L682.8 506.5L690.2 504.6L697.7 503.1L702.1 502.8L704.4 500.1L708.1 499.5L712.6 500.6L717.0 501.0L721.5 498.3L727.5 496.5L733.4 494.6L739.4 492.7L743.1 491.6L745.3 493.1L747.6 490.1L749.8 489.4L752.8 492.1L757.3 492.4L761.0 493.1L762.5 496.8L766.2 498.3L770.7 497.6L776.6 497.6L781.1 499.5L784.1 502.0L785.6 505.8L787.8 509.5L791.5 511.7L796.0 512.9L800.5 511.7L804.9 509.9L810.0 508.5M670.9 508.8L670.7 511.0M810.0 424.1L812.7 422.3L816.4 419.4L820.9 417.6L825.3 416.4L829.1 417.1L831.3 418.6L837.2 419.1L843.2 418.6L847.7 420.1L851.4 419.1L855.9 418.6L858.8 420.1L861.1 423.1L864.1 425.3L866.3 427.6L869.7 428.6L871.5 430.5L870.8 432.5M810.0 508.5L814.9 507.0L819.4 506.5L823.1 508.5L827.6 510.2L832.8 510.2L834.9 511.0M579.9 383.5L582.5 383.5L584.7 385.8L583.9 389.5L581.7 393.9L579.9 396.5M735.8 399.6L741.7 396.6L747.7 393.6L752.1 392.1L754.4 387.7L756.6 384.7L761.1 383.2L767.0 381.0L773.0 379.9L777.2 379.5L779.7 381.7L783.4 383.5L787.9 385.0L792.4 386.9L796.8 389.9L800.6 391.4L805.0 391.4"/><path fill="none" fill-rule="evenodd" stroke="#456a2f" stroke-width="1.55" stroke-linejoin="round" stroke-linecap="round" d="M137.7 390.0L124.3 398.2L112.4 405.3L100.4 412.6L96.0 414.6L93.0 416.5L79.6 422.8L66.2 429.5L64.1 430.2L64.2 432.0L62.5 432.2L52.8 437.7L40.4 443.9L42.3 448.8L44.6 453.3L46.1 457.8L46.5 464.5L47.6 471.2L48.6 477.2L49.3 480.9L47.9 483.1L49.1 486.8L52.0 489.8L55.8 492.0L58.4 492.8L59.0 495.8L59.5 498.8L61.7 504.0L63.9 509.9L65.4 513.4L61.7 515.1L60.5 518.1L57.2 521.1L55.0 523.9M55.0 524.0L53.1 525.9L54.3 527.4L56.9 528.1L56.8 531.9L58.0 537.1L56.5 540.8L57.2 544.5L58.4 548.2L58.0 551.5L55.8 554.2L54.6 557.2L55.8 558.7L59.0 559.0L59.9 562.4L62.0 564.6L63.2 570.6L64.7 575.1L70.7 575.1L72.9 573.6L75.1 571.8L77.4 575.1L82.6 575.8L88.5 575.8L90.8 578.0L90.8 581.8L92.3 585.5L94.5 589.2L98.2 592.2L101.2 595.2L101.6 599.6L103.4 603.1L106.4 604.9L107.9 609.3L109.1 613.8L111.6 617.5L115.3 620.5L118.0 621.5L121.3 620.1L126.1 618.6L128.0 621.2L130.2 625.0L132.5 625.0L133.2 623.5L131.0 620.5L128.0 616.8L125.0 613.0L127.3 610.1L126.1 605.6L129.5 603.4L133.2 602.2L134.7 604.1L136.2 601.9L138.4 604.6L142.2 604.9L147.4 603.4L148.4 600.4L154.1 597.7L160.0 595.9L160.0 592.2L157.4 588.5L154.8 585.9L160.0 583.7L167.5 580.7L172.3 578.8M172.2 578.8L174.5 579.5L176.0 581.0L176.3 584.7L176.7 588.5L179.7 592.2L178.9 595.9L181.9 597.7L184.9 594.4L188.6 592.6L192.3 594.4L196.8 597.1L200.5 594.4L204.3 590.7L205.8 587.0L209.0 589.7L212.5 590.0L216.2 589.2L217.4 592.2L219.2 597.4L222.1 601.9L223.6 604.9L228.1 605.2L232.6 603.4L237.0 600.7L240.0 602.2L243.0 604.9L247.5 607.1L251.9 608.1L256.4 607.8L258.6 608.6L260.9 606.3L263.1 607.1L265.3 610.8L267.6 615.3L268.3 620.5L271.3 623.5L275.0 625.4L277.6 626.9L279.5 622.7L281.0 619.8L284.7 618.6L288.4 617.5L290.7 613.8L292.2 610.5L296.6 610.1L299.6 607.8L301.1 605.6L304.1 604.6L306.3 603.4L305.9 600.1L307.8 602.2L311.5 604.1L317.5 605.6L323.4 604.6L330.0 602.2M330.0 602.3L331.6 604.1L331.9 609.3L332.2 613.8L331.9 616.8L334.9 617.1L337.9 619.0L342.3 618.6L346.8 618.0L352.0 618.0L354.3 620.5L357.2 622.7L360.5 622.0L361.4 618.3L362.5 614.5L365.4 611.6L366.9 607.8L369.2 606.3L369.9 602.6L372.1 600.1L376.6 598.2L379.6 596.7L381.4 595.2L382.6 597.4L382.6 600.8L387.0 600.4L391.5 598.9L393.7 597.0L396.0 596.7L395.2 598.9L396.3 602.6L398.2 606.3L400.4 610.1L403.4 610.5L408.6 609.6L412.4 610.1L414.6 612.3L419.1 613.5L422.8 611.6L427.3 610.5L432.5 610.1L434.7 613.0L436.2 616.0L435.9 621.2L434.7 625.7L434.4 628.7L437.7 629.4L439.9 633.2L441.0 636.9L445.1 636.1L449.6 637.9L455.6 637.9L460.8 638.4L464.2 638.8L466.7 636.9L469.0 634.4L472.0 635.4L476.4 634.6L480.0 633.2M480.0 633.5L482.7 632.4L484.2 635.4L486.4 631.7L489.4 628.7L492.3 627.9L496.1 630.2L499.1 627.2L502.0 626.9L505.8 625.7L508.7 621.2L511.0 622.0L513.2 620.9L516.2 623.5L518.4 626.5L520.7 629.7L526.6 629.7L531.1 631.7L535.5 635.4L538.8 638.8L541.5 636.1L544.5 634.4L549.0 633.9L553.4 635.8L557.2 634.4L558.6 630.2L560.1 625.4L563.1 622.7L564.2 625.7L565.3 622.0L566.5 618.3L568.3 621.2L570.1 625.0L572.8 626.9L577.3 626.0L577.6 622.0L581.7 620.5L587.7 618.6L593.6 616.8L598.1 613.8L601.8 610.8L604.8 608.6L608.5 609.3L613.3 608.1L614.5 610.5L612.7 613.5L615.3 615.3L617.5 618.3L619.7 620.5L622.7 619.8L622.3 616.8L625.7 614.5L630.0 612.6M586.2 534.5L589.2 535.6L591.4 538.6L593.6 541.5L593.9 546.0L595.9 550.5L592.9 552.0L592.2 555.7L594.4 558.7L598.1 560.9L601.8 563.1L604.1 566.1L605.3 570.6L606.3 575.1L607.4 578.3L603.3 579.8L600.4 582.5L601.8 584.7L605.6 587.7L609.3 590.7L604.1 593.7L598.1 596.2L592.2 598.9L586.2 601.1L581.0 603.4L577.3 601.1L572.8 600.1L568.3 598.9L564.6 596.7L561.6 592.9L559.4 588.5L557.2 585.5L556.7 582.2L554.2 581.8L551.9 584.0L548.2 582.5L543.7 581.0L539.7 578.3L541.2 575.8L543.0 571.3L546.7 570.6L550.4 569.4L551.6 565.4L551.2 561.7L549.7 558.7L551.2 554.9L553.4 552.0L555.2 549.0L554.2 546.5L557.9 545.3L562.4 542.3L566.8 540.1L572.8 540.1L576.5 540.8L578.0 542.3L580.2 539.3L582.5 536.0L586.2 534.5M630.0 612.6L632.7 611.6L635.6 610.1L638.6 606.3L642.3 604.6L643.8 607.1L643.8 611.6L646.1 614.5L650.5 613.8L655.0 613.5L658.4 610.8L660.2 607.8L659.0 604.1L656.5 601.1L655.5 596.7L656.5 592.2L656.9 587.7L659.5 589.2L663.2 590.7L667.7 590.0L671.4 592.2L675.1 591.4L677.4 590.0L678.8 592.2L680.3 589.2L681.4 585.5L684.8 586.2L687.0 584.0L690.0 583.7L693.0 585.5L696.7 587.0L700.4 588.5L703.4 591.4L705.7 595.2L707.9 597.4L711.6 598.2L713.9 599.2L713.1 602.6L714.6 604.1L716.8 602.2L721.3 603.1L725.8 602.6L729.5 603.4L731.7 600.4L734.7 601.6L734.4 604.9L735.5 609.3L737.7 610.8L740.7 613.0L743.6 611.6L747.4 610.1L750.4 606.3L753.3 602.6L757.1 600.8L760.8 601.6L763.8 603.4L766.7 607.1L769.7 610.1L773.4 613.0L776.1 616.0L776.4 621.2L777.9 624.2L780.0 625.7M780.0 626.0L782.7 629.4L785.6 629.9L789.4 630.9L792.3 630.2L793.5 628.4L797.6 629.0L800.5 630.9L803.5 633.2L806.9 634.9L809.5 633.9L812.5 633.9L815.4 631.4L816.5 629.4L814.7 627.2L812.5 625.4L812.9 622.4L816.2 622.4L819.2 624.2L822.1 623.0L827.4 622.4L831.1 623.5L832.3 620.5L833.3 624.2L837.0 625.0L840.8 623.9L843.0 621.2L845.2 619.0L848.2 620.5L850.4 622.0L852.7 624.2L854.2 621.2L857.9 618.6L861.6 616.0L864.6 613.8L866.8 611.1L871.3 610.8L874.0 612.0L876.5 609.6L878.0 612.3L879.5 616.0L882.5 618.3L884.7 620.9L888.4 622.4L892.2 621.5L896.3 622.0L897.4 618.3L898.4 614.5L899.9 613.5L901.8 616.0L902.6 619.5L904.8 620.1L907.8 618.0L911.5 615.6L915.3 613.5L917.5 611.1L916.7 606.3L917.5 604.1L922.0 603.7L925.7 601.6L930.0 600.8M929.9 600.8L931.9 597.7L936.3 597.4L938.6 595.6L942.3 595.2L944.5 592.2L949.0 591.4L952.0 588.5L953.9 584.7L955.0 581.8L958.7 581.0L962.4 581.3L965.4 581.0L964.7 578.0L962.4 576.3L958.7 575.8L955.7 574.8L954.2 571.3L952.4 567.6L950.9 563.1L950.5 558.7L951.2 554.2L951.5 550.9L954.2 549.0L957.9 546.5L961.4 546.0L962.4 543.0L965.4 540.1L966.4 536.3L967.3 533.0L969.9 531.9L972.8 533.6L975.1 531.9L974.8 528.1L976.6 524.4L978.8 521.4L980.3 517.7L982.5 514.7L984.3 512.5L983.3 511.0M963.9 604.1L966.1 605.2L968.4 603.1L972.1 601.9L975.1 600.4L977.3 602.6L979.5 604.1L980.3 600.4L982.5 597.1L985.5 593.7L988.5 591.4L991.5 591.7L992.2 595.2L994.4 598.2L996.7 597.4L998.9 600.4L1001.2 603.7L1004.9 602.6L1009.3 600.4L1011.6 599.6L1013.1 603.7L1015.3 600.4L1019.8 598.2L1023.9 596.7L1025.0 600.4L1025.4 604.9L1028.0 607.8L1030.9 610.5L1031.7 613.0L1029.5 616.8L1026.5 621.2L1023.5 624.5L1018.3 622.0L1013.8 622.0L1009.3 622.7L1004.1 623.0L1001.9 620.5L999.7 616.8L998.9 613.0L995.9 610.1L993.0 607.8L989.2 606.3L986.3 607.8L983.3 608.6L981.8 605.6L979.5 604.6L978.1 606.3L976.6 609.3L972.8 608.6L969.1 607.1L965.4 606.0L963.9 604.1M137.7 390.1L144.9 385.3L150.1 380.1L151.6 377.6L154.6 377.9L159.8 375.7L168.7 370.4L177.7 364.5L186.6 358.5L194.1 353.3L199.3 349.3L206.0 345.9L213.4 342.4L219.4 339.9L223.9 337.4L226.8 333.9L227.1 330.2L226.5 327.2L228.3 324.6L231.3 322.8L235.0 322.5L239.5 323.5L242.0 325.0L242.9 328.0L244.0 326.5L246.9 328.4L250.7 330.2L256.6 328.0L264.1 325.5L271.5 323.1L279.0 320.5L282.3 319.1L284.2 321.3L285.7 325.8L286.4 330.2L288.2 333.9L290.0 336.9M290.0 336.8L286.4 340.1L283.4 343.1L281.2 345.6L283.4 348.3L286.1 350.5L284.2 353.5L283.7 355.8L287.1 358.0L287.9 360.2L285.6 362.5L287.1 364.7L290.9 367.4L293.8 369.9L296.5 372.1L299.1 372.9L300.5 375.9L301.3 378.1L306.5 379.9L314.7 379.3L323.6 378.8L329.9 378.1L329.6 372.1L328.8 366.2L327.4 359.5L330.8 358.7L332.6 360.5L334.8 358.0L337.8 357.5L340.0 355.8L342.3 356.9L344.5 359.0L346.7 359.0L347.8 356.5L346.3 354.6L348.7 351.0L353.4 353.5L359.4 356.9L363.6 359.0L367.6 358.4L371.3 359.9L375.0 362.9L377.3 363.2L380.2 365.0L385.5 366.9L389.2 366.5L393.6 367.4L397.4 368.4L399.6 371.4L401.1 372.1L402.9 370.9L405.6 372.9L408.2 374.8L407.8 378.8L407.1 384.1L406.8 390.0L407.1 393.7L410.0 395.7L412.3 394.5L416.0 396.3L420.5 394.5L424.9 395.2L427.9 394.5L430.0 393.0M430.0 393.1L432.7 391.3L435.6 390.6L436.1 392.8L433.4 395.8L432.7 398.0L434.9 400.2L439.4 399.5L443.1 398.0L444.6 394.3L446.8 392.0L448.3 394.3L450.5 395.0L455.8 393.1L457.5 390.1L461.7 389.1L463.9 385.3L467.7 383.1L472.1 380.1L475.9 381.2L478.8 380.1L481.8 381.2L485.5 380.1L491.5 375.7L499.0 370.4L507.9 364.2L516.8 357.8L522.8 350.3L530.2 340.7L535.5 333.9L539.2 329.5L535.5 327.2L533.2 325.0L532.0 321.3L534.7 320.2L546.6 319.3L557.1 318.8L565.7 318.3L567.2 322.0L568.2 327.5L572.0 328.0L576.4 328.7L580.0 329.5M580.0 329.5L583.4 328.7L587.1 326.6L590.6 324.7L593.8 324.7L594.1 321.7L592.3 321.3L594.6 319.5L590.9 314.3L587.1 309.1L583.4 303.8L580.4 299.4L581.9 295.7L584.2 292.4L583.7 288.2L579.7 286.7L579.2 284.9L583.4 283.0L589.4 280.0L596.8 276.3L602.0 275.5L606.5 272.1L613.2 271.5L619.9 270.3L625.4 269.6L628.1 273.3L625.9 278.5L622.9 284.5L623.3 290.4L624.4 297.1L629.6 294.9L635.8 292.7L641.5 293.4L647.5 294.5L652.7 295.9L654.9 297.9L657.9 295.7L663.1 295.9L663.6 291.9L663.1 288.2L666.1 285.2L669.8 283.4L672.0 280.0L673.5 277.0L677.3 275.5L679.5 271.8L681.4 268.5L685.5 266.6L686.9 262.1L689.9 259.9L693.6 258.7L696.3 259.9L697.4 262.1L701.1 261.4L704.8 262.9L707.1 265.9L707.8 268.5L711.5 269.6L713.3 271.8L713.0 276.3L712.3 279.3L714.5 280.8L711.5 282.2L708.5 285.2L709.3 289.7L709.7 294.9L710.8 297.4L713.3 298.6L708.5 298.6L704.1 296.4L699.6 293.4L695.9 292.4L692.9 293.4L692.2 297.1L693.4 300.9L696.6 302.8L701.1 302.4L707.1 301.3L713.0 300.1L716.7 301.6L720.5 302.8L723.4 300.9L726.4 300.1L730.0 301.9M730.0 301.6L732.7 303.8L734.2 306.8L735.6 309.8L738.6 309.8L741.6 306.8L744.6 302.4L748.3 297.1L752.8 292.7L757.2 288.9L760.2 286.7L761.7 282.2L762.5 278.5L761.7 275.5L763.9 271.8L766.2 268.8L769.2 266.6L770.9 267.3L770.7 271.1L772.9 273.6L777.4 273.6L782.6 274.1L784.8 278.5L787.0 284.5L790.0 292.4L787.0 297.9L784.1 303.8L780.8 309.8L784.1 313.5L788.5 318.7L793.0 324.0L795.2 328.4L797.8 331.4L798.7 337.4L799.0 343.3L799.7 346.3L803.4 347.0L807.2 348.5L810.9 345.6L814.6 344.1L818.3 343.0L822.8 345.6L827.3 348.5L830.5 350.8L829.5 356.7L828.0 362.7L826.5 367.9L828.8 370.1L833.2 369.4L837.7 368.4L842.2 369.8L846.6 370.9L852.6 369.8L859.3 369.4L860.8 365.7L862.7 364.5L867.5 365.7L873.4 367.2L880.0 368.9M739.7 303.8L741.2 303.8L741.6 305.3L740.1 305.8L739.4 304.6L739.7 303.8M727.4 295.9L728.0 296.2M711.5 284.9L712.1 285.2M880.0 369.0L881.9 369.9L884.9 366.5L887.9 362.8L892.3 360.5L896.1 359.5L899.1 356.1L901.3 352.6L905.0 352.6L909.5 353.8L911.4 356.1L912.5 359.1L916.2 362.8L919.9 365.8L922.9 368.0L923.3 373.2L922.9 379.2L923.6 384.4L924.8 387.8L931.1 390.3L938.5 393.3L946.0 396.3L951.6 398.8L951.2 402.3L953.4 404.5L957.9 404.5L960.1 405.7L963.1 404.8L967.6 406.0L971.3 404.5L975.8 403.7L978.8 402.7L981.7 404.2L985.5 406.0L987.7 408.2L986.2 411.2L987.7 414.2L987.4 417.2L989.2 419.7L992.9 417.9L995.9 415.7L998.1 416.1L1000.4 413.1L1002.6 412.2L1004.8 414.9L1006.8 418.6L1009.3 421.2L1011.2 422.7L1008.5 425.3L1006.3 429.1L1001.8 431.3L998.9 434.3L997.8 437.3L999.6 439.9L1003.3 440.5L1005.3 443.2L1004.1 446.2L1001.1 447.7L997.8 446.2L995.1 448.4L994.8 451.4L996.9 453.6L995.1 456.6L995.9 460.4L993.6 462.6L989.2 461.4L987.7 463.3M987.7 463.4L987.2 468.3L984.9 472.0L983.4 475.8L986.4 477.5L989.1 479.9L987.6 483.5L986.4 486.9L986.7 491.4L984.2 495.1L981.9 498.8L978.2 500.3L976.7 503.3L973.7 506.7L973.0 509.7L976.0 511.5L979.0 509.3L981.9 508.8L984.9 512.3L983.4 513.7"/><path fill="#456a2f" fill-rule="evenodd" stroke="#456a2f" stroke-width="0.2" stroke-linejoin="round" stroke-linecap="round" d="M735.1 290.8L734.9 287.4L735.5 285.7L736.6 285.2L737.7 285.2L738.6 284.1L740.5 283.6L742.2 282.9L742.1 281.3L742.8 281.1L743.5 282.0L745.6 281.8L746.1 282.9L746.0 284.6L745.3 285.7L745.4 287.1L744.4 287.7L743.6 288.0L743.3 289.1L743.7 289.9L743.3 291.3L742.8 293.3L741.6 294.1L739.4 294.0L738.3 293.6L737.7 292.7L736.3 292.2L735.1 291.5L735.1 290.8M739.0 286.3L739.8 286.2L740.0 286.8L739.1 287.0L739.0 286.3M737.2 290.2L738.8 290.1L739.0 290.9L737.5 291.1L737.2 290.2"/></svg>
<div class="sw" style="top:5px;background:#cdcdcd"></div><div class="lt" style="top:-5px;word-spacing:0px">aanwezig</div><div class="sw" style="top:37px;background:#d4e8cf"></div><div class="lt" style="top:28px;word-spacing:0.5px">1 - 3 (48)</div><div class="sw" style="top:70px;background:#bad89c"></div><div class="lt" style="top:61px;word-spacing:0.5px">4 - 10 (209)</div><div class="sw" style="top:103px;background:#adcf6b"></div><div class="lt" style="top:94px;word-spacing:0.8px">11 - 25 (227)</div><div class="sw" style="top:136px;background:#94c079"></div><div class="lt" style="top:127px;word-spacing:0.5px">26 - 50 (57)</div><div class="sw" style="top:169px;background:#84a3a4"></div><div class="lt" style="top:160px;word-spacing:0.5px">51 - 100 (9)</div><div class="sw" style="top:202px;background:#6f668f"></div><div class="lt" style="top:193px;word-spacing:0.2px">101 - 250 (1)</div><div class="sw" style="top:235px;background:#5b4582"></div><div class="lt" style="top:226px;word-spacing:0px">251 - 500</div><div class="sw" style="top:263px;background:#6c2580"></div><div class="lt" style="top:254px;word-spacing:0px">501 - 1000</div><div class="sw" style="top:291px;background:#84206f"></div><div class="lt" style="top:282px;word-spacing:0px">&gt; 1000</div>
<div class="ft">Tuinfluiter - Sylvia borin<br>Broedvogels (schattingen) 2020-2024<br>© INBO / Natuurpunt (vogelatlas.be) gemaakt op 08-12-2025 10:38:53</div>
</body></html>
